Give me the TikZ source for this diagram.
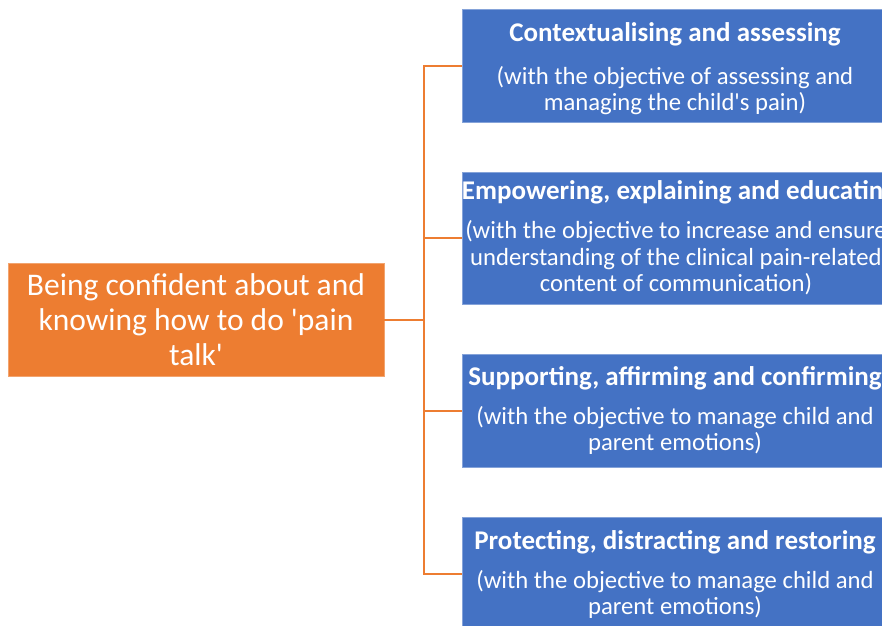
\documentclass[tikz,border=0pt]{standalone}
\usepackage{fontspec}
\newfontfamily\cfont{Carlito}
\definecolor{rootorange}{HTML}{ED7D31}
\definecolor{boxblue}{HTML}{4472C4}
\newcommand{\leaftitle}[1]{{\fontsize{27}{26.5}\selectfont\bfseries #1}}
\tikzset{
  rootbox/.style={rectangle, fill=rootorange, draw=rootorange!70!white, line width=0.8pt,
    text=white, align=center, inner sep=0pt,
    minimum width=376pt, minimum height=113pt,
    font=\cfont\fontsize{31.5}{35}\selectfont},
  leafbox/.style={rectangle, fill=boxblue, draw=boxblue!65!white, line width=0.8pt,
    inner sep=0pt, minimum width=426pt, minimum height=113pt},
  leaftext/.style={text=white, align=center, inner sep=0pt,
    font=\cfont\fontsize{24.7}{26.6}\selectfont},
  branch/.style={draw=rootorange, line width=2pt}
}
\begin{document}
\begin{tikzpicture}[x=1pt,y=-1pt]
  \useasboundingbox (0,0) rectangle (882,625);
  \clip (0,0) rectangle (882,625);

  \node[rootbox] (root) at (196,319.5)
    {Being confident about and\\knowing how to do 'pain\\talk'};

  % the four blue boxes, run off the right edge of the page
  \node[leafbox] (b1) at (675,65.5) {};
  \node[leafbox, minimum height=132pt] (b2) at (675,238) {};
  \node[leafbox] (b3) at (675,410.5) {};
  \node[leafbox] (b4) at (675,573.5) {};

  % their texts, kept apart so wide lines do not widen the boxes
  \node[leaftext] (t1) at (675,69)
    {\leaftitle{Contextualising and assessing}\\[16pt]
     (with the objective of assessing and\\managing the child's pain)};
  \node[leaftext] (t2) at (676,238)
    {\hspace*{6pt}\leaftitle{Empowering, explaining and educating}\\[12.5pt]
     (with the objective to increase and ensure\\understanding of the clinical pain-related\\content of communication)};
  \node[leaftext] (t3) at (675,410.5)
    {\leaftitle{Supporting, affirming and confirming}\\[12.5pt]
     (with the objective to manage child and\\parent emotions)};
  \node[leaftext] (t4) at (675,574.5)
    {\leaftitle{Protecting, distracting and restoring}\\[12.5pt]
     (with the objective to manage child and\\parent emotions)};

  % spine of the tree
  \coordinate (j) at (424,319.5);
  \draw[branch] (root.east) -- (j);
  \draw[branch] (b1.west) -| (j);
  \draw[branch] (b2.west) -| (j);
  \draw[branch] (b3.west) -| (j);
  \draw[branch] (b4.west) -| (j);
\end{tikzpicture}
\end{document}
